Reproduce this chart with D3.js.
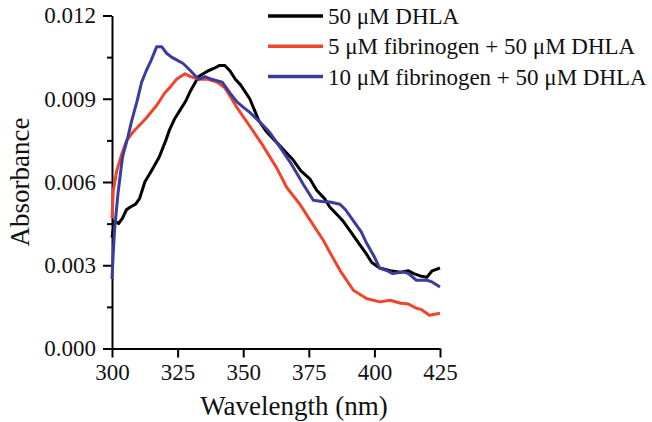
<!DOCTYPE html>
<head>
    <meta charset="utf-8">
    <script src="https://cdn.jsdelivr.net/npm/d3@7"></script>
</head>

<body style="margin:0">
    <svg id="chart" style="display:block"></svg>

    <script>
        // values
        let xTicks = [300, 325, 350, 375, 400, 425];
        let yTicks = [0, 0.003, 0.006, 0.009, 0.012];
        let yMinor = [0.0015, 0.0045, 0.0075, 0.0105];

        let dhlaWl = [300, 301, 302.5, 304, 305.5, 307, 309, 310.5, 312.5, 315, 318, 320.5, 322, 324, 326, 328, 330, 333, 336.5, 339, 341, 343, 345, 347, 349, 352.5, 356, 359, 363, 366, 369, 372, 375.5, 378, 381, 383, 386, 388, 391, 394, 397, 399, 402, 406, 410, 413, 415, 418, 420, 422, 425];
        let dhlaAbs = [0.0040, 0.0046, 0.0045, 0.0047, 0.0050, 0.0051, 0.0052, 0.0054, 0.0060, 0.0064, 0.0069, 0.0075, 0.0079, 0.0083, 0.0086, 0.0089, 0.0093, 0.0098, 0.0100, 0.0101, 0.0102, 0.0102, 0.0100, 0.0097, 0.0095, 0.0090, 0.0082, 0.0078, 0.0074, 0.0071, 0.0068, 0.0064, 0.0061, 0.0057, 0.0054, 0.0051, 0.0048, 0.0046, 0.0042, 0.0038, 0.0034, 0.0031, 0.0029, 0.0028, 0.00275, 0.0028, 0.0027, 0.0026, 0.00257, 0.0028, 0.0029];

        let fib5Wl = [300, 300.5, 301.8, 303.7, 305.6, 308, 310, 313, 316.5, 318, 320, 322, 324.6, 327.8, 330, 333, 336.6, 340, 343, 347.5, 352.6, 357.6, 362.8, 366.6, 371.6, 375, 380.5, 384, 387, 392, 397, 402, 406, 410, 413, 416, 418, 421, 425];
        let fib5Abs = [0.0047, 0.0057, 0.0064, 0.0070, 0.0075, 0.0078, 0.0080, 0.0083, 0.0087, 0.0089, 0.0092, 0.0094, 0.0097, 0.0099, 0.0098, 0.0097, 0.0097, 0.0096, 0.0094, 0.0087, 0.0080, 0.0073, 0.0065, 0.0058, 0.0052, 0.0047, 0.0039, 0.0033, 0.0028, 0.0021, 0.0018, 0.00168, 0.00174, 0.00163, 0.0016, 0.00145, 0.0014, 0.0012, 0.00127];

        let fib10Wl = [300, 300.5, 301, 302.3, 304, 306, 307.5, 309.5, 311.3, 313, 315, 317, 319, 320.8, 322.7, 324.6, 327, 329, 331, 333, 335.4, 338, 342, 345, 347.5, 350, 352.6, 357, 360, 363, 368, 373, 376.7, 380, 383, 386.9, 389, 392, 395, 397, 400, 402, 405, 407, 411, 413, 416, 420, 422, 425];
        let fib10Abs = [0.0025, 0.0035, 0.0043, 0.0056, 0.0069, 0.0076, 0.0082, 0.0089, 0.0096, 0.0100, 0.0104, 0.01087, 0.01087, 0.01064, 0.0105, 0.0104, 0.01028, 0.0101, 0.0099, 0.0097, 0.0098, 0.0097, 0.0096, 0.0092, 0.0089, 0.0087, 0.0085, 0.0081, 0.0078, 0.0074, 0.0067, 0.0059, 0.00534, 0.0053, 0.00528, 0.0052, 0.0050, 0.0046, 0.0042, 0.0038, 0.0033, 0.0029, 0.0028, 0.0027, 0.00276, 0.0027, 0.00246, 0.00246, 0.0024, 0.00222];

        let names = ["50 \u03BCM DHLA", "5 \u03BCM fibrinogen + 50 \u03BCM DHLA", "10 \u03BCM fibrinogen + 50 \u03BCM DHLA"];
        let colors = ["#000000", "#f0452c", "#3a3d9c"];

        let serif = "'Liberation Serif'";

        let series = [
            { name: names[0], color: colors[0], pts: dhlaWl.map((w, i) => ({ x: w, y: dhlaAbs[i] })) },
            { name: names[1], color: colors[1], pts: fib5Wl.map((w, i) => ({ x: w, y: fib5Abs[i] })) },
            { name: names[2], color: colors[2], pts: fib10Wl.map((w, i) => ({ x: w, y: fib10Abs[i] })) }
        ];

        let W = 652, H = 422;
        let svg = d3.select("#chart").attr("width", W).attr("height", H);

        let x = d3.scaleLinear().domain([300, 425]).range([112, 440]);
        let y = d3.scaleLinear().domain([0, 0.012]).range([348.5, 15.5]);

        // minor y ticks first, under the main axis
        svg.append("g")
            .attr("transform", "translate(112,0)")
            .call(d3.axisLeft(y).tickValues(yMinor).tickSize(5).tickFormat(""))
            .call(g => g.select(".domain").remove());

        let gy = svg.append("g")
            .attr("transform", "translate(112,0)")
            .call(d3.axisLeft(y).tickValues(yTicks).tickSize(9).tickSizeOuter(0).tickPadding(7).tickFormat(d3.format(".3f")));

        let gx = svg.append("g")
            .attr("transform", "translate(0,348.5)")
            .call(d3.axisBottom(x).tickValues(xTicks).tickSize(9).tickSizeOuter(0).tickPadding(6));

        svg.selectAll(".tick line, .domain")
            .style("stroke", "#000")
            .style("stroke-width", 2);

        [gx, gy].forEach(g => g.selectAll("text")
            .style("font-family", serif)
            .attr("font-size", 23)
            .attr("fill", "#111"));

        let line = d3.line()
            .x(d => x(d.x))
            .y(d => y(d.y));

        svg.append("g").selectAll(".curve")
            .data(series)
            .enter()
            .append("path")
            .attr("class", "curve")
            .attr("d", d => line(d.pts))
            .style("fill", "none")
            .style("stroke", d => d.color)
            .style("stroke-width", 3)
            .style("stroke-linejoin", "round");

        // legend
        let leg = svg.append("g").selectAll(".leg")
            .data(series)
            .enter()
            .append("g")
            .attr("class", "leg")
            .attr("transform", (d, i) => "translate(268," + (16 + i * 30.3) + ")");

        leg.append("line")
            .attr("x1", 0).attr("x2", 55)
            .style("stroke", d => d.color)
            .style("stroke-width", 3.5);

        leg.append("text")
            .attr("x", 60)
            .attr("y", 8)
            .attr("font-size", 23)
            .attr("fill", "#111")
            .style("font-family", serif)
            .text(d => d.name);

        // axis titles
        svg.append("text")
            .attr("x", 294)
            .attr("y", 415)
            .attr("text-anchor", "middle")
            .attr("font-size", 27)
            .attr("fill", "#111")
            .style("font-family", serif)
            .text("Wavelength (nm)");

        svg.append("text")
            .attr("transform", "translate(29,182) rotate(-90)")
            .attr("text-anchor", "middle")
            .attr("font-size", 27)
            .attr("fill", "#111")
            .style("font-family", serif)
            .text("Absorbance");
    </script>
</body>
